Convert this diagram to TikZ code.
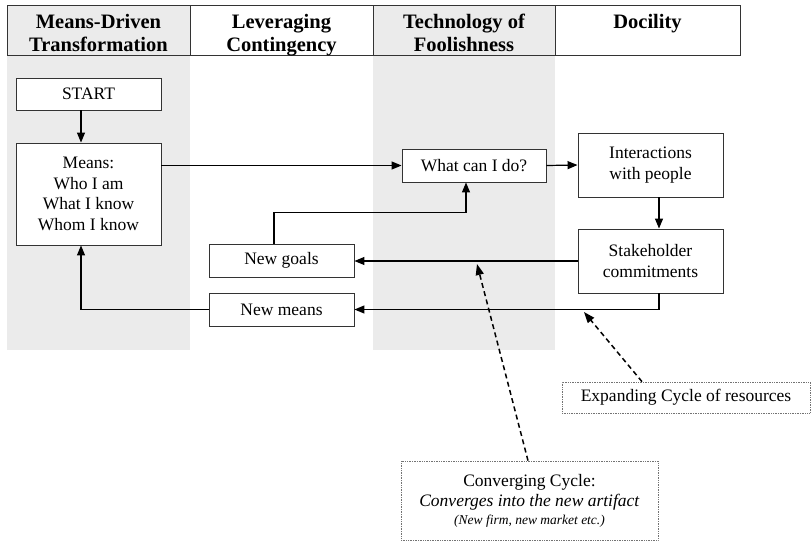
\documentclass[tikz,border=0pt]{standalone}
\usepackage{fontspec}
\setmainfont{Liberation Serif}
\usetikzlibrary{arrows.meta,%
                shapes,positioning}

\begin{document}
\begin{tikzpicture}[x=1pt,y=-1pt,
  head/.style={draw=black!80,line width=1pt,align=center,anchor=north,
    minimum height=50pt,inner sep=0pt,text height=42pt,text depth=0pt,
    font=\fontsize{20.5}{23}\selectfont\bfseries},
  box/.style={draw=black!80,line width=0.9pt,fill=white,align=center,
    inner sep=0pt,minimum width=145pt,font=\fontsize{17.5}{20.5}\selectfont},
  note/.style={draw=black!55,densely dotted,line width=0.7pt,fill=white,
    align=center,inner sep=0pt,font=\fontsize{17.5}{20.5}\selectfont},
  arr/.style={line width=1.2pt,-{Triangle[length=10pt,width=8pt]}},
  dasharr/.style={line width=1.5pt,dash pattern=on 5pt off 3.5pt,
    -{Triangle[length=11pt,width=8pt]}}]
\fill[white] (0,0) rectangle (811,543);
% grey columns
\fill[black!8] (7,55) rectangle (190,350);
\fill[black!8] (373,55) rectangle (555,350);
% header
\node[head,fill=black!8,minimum width=183pt] (h1) at (98.5,5) {Means-Driven\\Transformation};
\node[head,minimum width=183pt] (h2) at (281.5,5) {Leveraging\\Contingency};
\node[head,fill=black!8,minimum width=182pt] (h3) at (464,5) {Technology of\\Foolishness};
\node[head,minimum width=185pt] (h4) at (647.5,5) {Docility\\\mbox{}};
% boxes
\node[box,minimum height=32pt] (start) at (88.5,94) {START};
\node[box,minimum height=102pt] (means) at (88.5,194) {Means:\\Who I am\\What I know\\Whom I know};
\node[box,minimum width=144pt,minimum height=33pt] (whatcan) at (474,165.5) {What can I do?};
\node[box,minimum height=64pt] (inter) at (650.5,165) {Interactions\\with people};
\node[box,minimum height=64pt] (stake) at (650.5,261) {Stakeholder\\commitments};
\node[box,minimum height=33pt] (newgoals) at (281.5,260.5) {New goals};
\node[box,minimum height=33pt] (newmeans) at (281.5,309.5) {New means};
\node[note,minimum width=248pt,minimum height=31pt] (expand) at (686,397.5) {Expanding Cycle of resources};
\node[note,minimum width=257pt,minimum height=79pt] (conv) at (529.5,500.5)
  {Converging Cycle:\\\textit{Converges into the new artifact}\\[-3pt]{\fontsize{13.5}{15}\selectfont\itshape (New firm, new market etc.)}};
\coordinate (tipE) at (584,312);
\coordinate (tipC) at (477,264);
% connectors
\draw[arr] ([xshift=-7.5pt]start.south) -- ([xshift=-7.5pt]means.north);
\draw[arr] (means.east |- whatcan.west) -- (whatcan.west);
\draw[arr] (whatcan.east) -- (inter.west);
\draw[arr] ([xshift=8.5pt]inter.south) -- ([xshift=8.5pt]stake.north);
\draw[arr] (stake.west) -- (stake.west -| newgoals.east);
\draw[arr] ([xshift=8.5pt]stake.south) |- (newmeans.east);
\draw[arr] ([xshift=-7.5pt]newgoals.north) -- ++(0,-31) -| ([xshift=-8pt]whatcan.south);
\draw[arr] (newmeans.west) -| ([xshift=-7.5pt]means.south);
\draw[dasharr] ([xshift=-44pt]expand.north) -- (tipE);
\draw[dasharr] ([xshift=-1.5pt]conv.north) -- (tipC);
\end{tikzpicture}
\end{document}
